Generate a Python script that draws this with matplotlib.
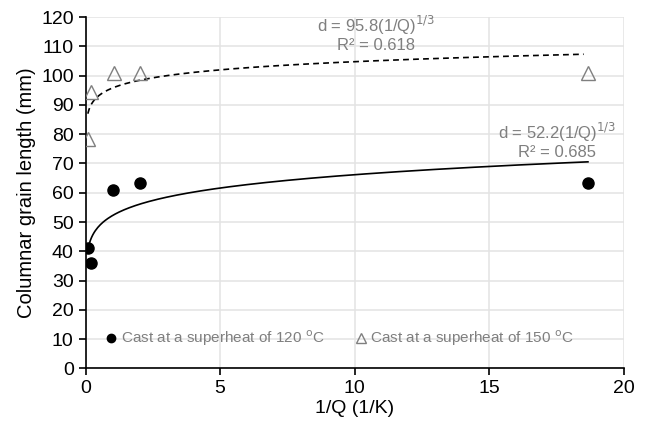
import numpy as np
import matplotlib
matplotlib.use("Agg")
import matplotlib.pyplot as plt

plt.rcParams['font.family'] = ['Liberation Sans', 'DejaVu Sans']

# Data
inv_q_120 = [0.085, 0.22, 1.02, 2.04, 18.66]
d_120 = [41.0, 36.0, 61.0, 63.5, 63.3]
inv_q_150 = [0.085, 0.22, 1.05, 2.04, 18.66]
d_150 = [78.3, 94.5, 101.0, 101.0, 101.0]

# power-law trendlines d = a * x^b (coefficient from the label, exponent from the curve)
fit_120 = (52.2, 0.103)
fit_150 = (95.8, 0.039)
eq_120 = "d = 52.2(1/Q)$^{1/3}$\nR² = 0.685"
eq_150 = "d = 95.8(1/Q)$^{1/3}$\nR² = 0.618"

grey = '#7f7f7f'

fig = plt.figure(figsize=(6.48, 4.3), dpi=100)
ax = fig.add_axes([0.132, 0.1435, 0.831, 0.8165])

xs = np.linspace(min(inv_q_120), max(inv_q_120), 400)
ax.plot(xs, fit_120[0] * xs ** fit_120[1], color='black', lw=1.2, zorder=2)
xs2 = np.linspace(min(inv_q_150), 18.5, 400)
ax.plot(xs2, fit_150[0] * xs2 ** fit_150[1], color='black', lw=1.2,
        dashes=(3.5, 2.5), zorder=2)

ax.plot(inv_q_120, d_120, 'o', color='black', ms=8, ls='none', zorder=3,
        label='Cast at a superheat of 120 $^{\\mathrm{o}}$C')
ax.plot(inv_q_150, d_150, '^', mfc='none', mec=grey, mew=1.0, ms=10, ls='none',
        zorder=3, label='Cast at a superheat of 150 $^{\\mathrm{o}}$C')

ax.text(10.8, 121, eq_150, ha='center', va='top', fontsize=12, color=grey,
        linespacing=1.05)
ax.text(17.5, 84.5, eq_120, ha='center', va='top', fontsize=12, color=grey,
        linespacing=1.05)

ax.set_xlim(0, 20)
ax.set_ylim(0, 120)
ax.set_xticks(range(0, 21, 5))
ax.set_yticks(range(0, 121, 10))
ax.grid(True, color='#e3e3e3', lw=1.1)
ax.set_axisbelow(True)
for s in ['top', 'right']:
    ax.spines[s].set_visible(False)
ax.spines['left'].set_linewidth(1.2)
ax.spines['bottom'].set_linewidth(1.2)
ax.tick_params(direction='out', length=5, width=1.2, labelsize=14)
ax.set_xlabel('1/Q (1/K)', fontsize=14, labelpad=2)
ax.set_ylabel('Columnar grain length (mm)', fontsize=14.5, labelpad=4)

leg = ax.legend(loc='center', bbox_to_anchor=(0.47, 0.086), ncol=2,
                frameon=False, fontsize=11, handletextpad=0.1,
                columnspacing=1.9, markerscale=0.75, handlelength=1.0)
for t in leg.get_texts():
    t.set_color(grey)

plt.savefig('out.png', dpi=100)
